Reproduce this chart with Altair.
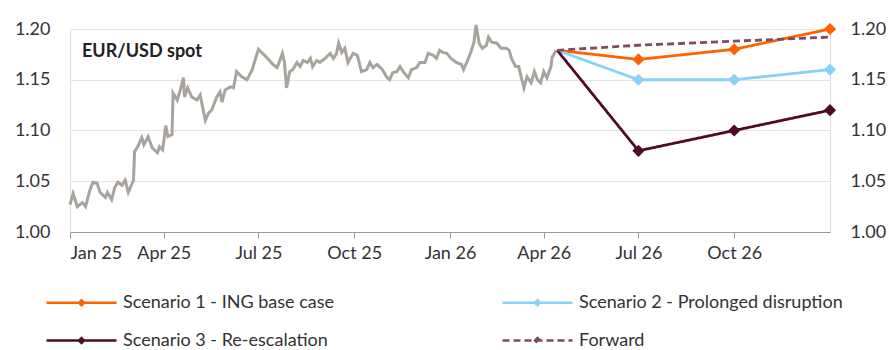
import altair as alt
import pandas as pd

# ---- EUR/USD spot ----
spot_dates = [
    "2025-01-01", "2025-01-04", "2025-01-08", "2025-01-13", "2025-01-16", "2025-01-20", "2025-01-23",
    "2025-01-27", "2025-01-30", "2025-02-04", "2025-02-06", "2025-02-10", "2025-02-13", "2025-02-16",
    "2025-02-20", "2025-02-23", "2025-02-26", "2025-03-03", "2025-03-04", "2025-03-07", "2025-03-11",
    "2025-03-13", "2025-03-17", "2025-03-21", "2025-03-26", "2025-03-28", "2025-03-31", "2025-04-03",
    "2025-04-05", "2025-04-09", "2025-04-10", "2025-04-14", "2025-04-17", "2025-04-20", "2025-04-21",
    "2025-04-24", "2025-04-28", "2025-05-03", "2025-05-06", "2025-05-11", "2025-05-14", "2025-05-17",
    "2025-05-22", "2025-05-25", "2025-05-27", "2025-05-30", "2025-06-04", "2025-06-07", "2025-06-10",
    "2025-06-15", "2025-06-20", "2025-06-25", "2025-07-01", "2025-07-05", "2025-07-09", "2025-07-15",
    "2025-07-19", "2025-07-24", "2025-07-26", "2025-07-28", "2025-07-31", "2025-08-03", "2025-08-07",
    "2025-08-10", "2025-08-13", "2025-08-17", "2025-08-20", "2025-08-22", "2025-08-26", "2025-08-29",
    "2025-09-03", "2025-09-08", "2025-09-11", "2025-09-14", "2025-09-16", "2025-09-19", "2025-09-22",
    "2025-09-25", "2025-09-30", "2025-10-04", "2025-10-08", "2025-10-13", "2025-10-16", "2025-10-19",
    "2025-10-23", "2025-10-28", "2025-11-01", "2025-11-04", "2025-11-07", "2025-11-11", "2025-11-14",
    "2025-11-17", "2025-11-22", "2025-11-25", "2025-11-30", "2025-12-03", "2025-12-08", "2025-12-11",
    "2025-12-16", "2025-12-19", "2025-12-22", "2025-12-25", "2025-12-29", "2026-01-02", "2026-01-07",
    "2026-01-12", "2026-01-14", "2026-01-17", "2026-01-21", "2026-01-24", "2026-01-26", "2026-01-29",
    "2026-02-01", "2026-02-05", "2026-02-07", "2026-02-10", "2026-02-15", "2026-02-19", "2026-02-24",
    "2026-02-27", "2026-03-01", "2026-03-05", "2026-03-08", "2026-03-11", "2026-03-13", "2026-03-16",
    "2026-03-20", "2026-03-23", "2026-03-26", "2026-03-29", "2026-04-01", "2026-04-04", "2026-04-08",
    "2026-04-09", "2026-04-13",
]
spot_values = [
    1.027, 1.038, 1.025, 1.029, 1.025, 1.041, 1.049,
    1.048, 1.039, 1.034, 1.039, 1.032, 1.044, 1.049,
    1.046, 1.051, 1.039, 1.051, 1.079, 1.084, 1.093,
    1.086, 1.094, 1.083, 1.078, 1.084, 1.081, 1.105,
    1.094, 1.096, 1.137, 1.130, 1.140, 1.152, 1.133,
    1.142, 1.133, 1.130, 1.135, 1.110, 1.117, 1.120,
    1.133, 1.138, 1.128, 1.140, 1.143, 1.142, 1.158,
    1.153, 1.150, 1.160, 1.180, 1.176, 1.172, 1.165,
    1.162, 1.176, 1.167, 1.142, 1.158, 1.160, 1.167,
    1.163, 1.169, 1.167, 1.171, 1.163, 1.169, 1.167,
    1.171, 1.176, 1.171, 1.176, 1.186, 1.177, 1.181,
    1.167, 1.176, 1.174, 1.158, 1.160, 1.167, 1.162,
    1.165, 1.160, 1.153, 1.150, 1.157, 1.158, 1.163,
    1.158, 1.152, 1.160, 1.162, 1.167, 1.167, 1.176,
    1.174, 1.171, 1.179, 1.177, 1.176, 1.171, 1.167,
    1.165, 1.160, 1.167, 1.177, 1.187, 1.204, 1.186,
    1.181, 1.184, 1.192, 1.187, 1.186, 1.181, 1.181,
    1.179, 1.171, 1.163, 1.163, 1.150, 1.142, 1.153,
    1.147, 1.158, 1.150, 1.147, 1.158, 1.152, 1.163,
    1.172, 1.179,
]

# ---- Scenarios & forward ----
scen_dates = ["2026-04-14", "2026-07-01", "2026-10-01", "2027-01-01"]
scenario1 = [1.179, 1.17, 1.18, 1.20]
scenario2 = [1.179, 1.15, 1.15, 1.16]
scenario3 = [1.179, 1.08, 1.10, 1.12]
forward = [1.179, 1.184, 1.188, 1.192]

series_names = [
    "Scenario 1 - ING base case",
    "Scenario 2 - Prolonged disruption",
    "Scenario 3 - Re-escalation",
    "Forward",
]
series_colors = ["#FF6200", "#89D2F7", "#4F0A2A", "#7E4A66"]
series_dash = [[1, 0], [1, 0], [1, 0], [7, 4]]

x_ticks = ["2025-01-01", "2025-04-01", "2025-07-01", "2025-10-01",
           "2026-01-01", "2026-04-01", "2026-07-01", "2026-10-01"]

FONT = "Lato"
TXT = "#333333"

spot_df = pd.DataFrame({"date": spot_dates, "value": spot_values})

rows = []
for name, vals, col in zip(series_names, [scenario1, scenario2, scenario3, forward], series_colors):
    for d, v in zip(scen_dates, vals):
        rows.append({"series": name, "date": d, "value": v, "color": col})
scen_df = pd.DataFrame(rows)
pts_df = scen_df[(scen_df["series"] != "Forward") & (scen_df["date"] != scen_dates[0])]

x_scale = alt.Scale(type="utc", domain=[{"year": 2025, "month": 1, "date": 1, "utc": True},
                                        {"year": 2027, "month": 1, "date": 1, "utc": True}])
y_scale = alt.Scale(domain=[1.0, 1.2], nice=False, zero=False)

x_axis = alt.Axis(
    values=[alt.DateTime(year=int(t[:4]), month=int(t[5:7]), date=1, utc=True) for t in x_ticks],
    labelExpr="utcFormat(datum.value, '%b %y')", title=None, grid=False,
    domainColor="#9a9a9a", tickColor="#9a9a9a", tickSize=6, domainWidth=1,
    labelFontSize=18, labelColor=TXT, labelFont=FONT, labelPadding=6,
)

spot = alt.Chart(spot_df).mark_line(color="#A8A39D", strokeWidth=3).encode(
    x=alt.X("date:T", scale=x_scale, axis=x_axis),
    y=alt.Y("value:Q", scale=y_scale, axis=alt.Axis(
        values=[1.0, 1.05, 1.1, 1.15, 1.2], format=".2f", title=None, orient="left",
        ticks=False, domain=False, grid=True, gridColor="#e3e3e3", gridWidth=1,
        labelFontSize=18, labelColor=TXT, labelFont=FONT, labelPadding=20)),
)

legend = alt.Legend(
    title=None, orient="none", legendX=-25, legendY=262, columns=2, direction="horizontal",
    symbolType="M-1,0L6,0M2.25,0L2.5,-0.25L2.75,0L2.5,0.25Z",
    symbolSize=400, symbolStrokeWidth=2.5, labelOffset=55,
    labelFontSize=18, labelFont=FONT, labelColor=TXT, labelLimit=400,
    columnPadding=163, rowPadding=17,
)

lines = alt.Chart(scen_df).mark_line(strokeWidth=2.8).encode(
    x=alt.X("date:T", scale=x_scale),
    y=alt.Y("value:Q", scale=y_scale, axis=alt.Axis(
        values=[1.0, 1.05, 1.1, 1.15, 1.2], format=".2f", title=None, orient="right",
        ticks=False, domain=False, grid=False,
        labelFontSize=18, labelColor=TXT, labelFont=FONT, labelPadding=20)),
    color=alt.Color("series:N", scale=alt.Scale(domain=series_names, range=series_colors), legend=legend),
    strokeDash=alt.StrokeDash("series:N", scale=alt.Scale(domain=series_names, range=series_dash), legend=legend),
)

pts = alt.Chart(pts_df).mark_point(shape="diamond", filled=True, size=150, opacity=1).encode(
    x=alt.X("date:T", scale=x_scale),
    y=alt.Y("value:Q", scale=y_scale, axis=None),
    color=alt.Color("color:N", scale=None),
)

label = alt.Chart(pd.DataFrame({"t": ["EUR/USD spot"]})).mark_text(
    align="left", baseline="middle", fontSize=18, fontWeight="bold", font=FONT, color="#222222"
).encode(x=alt.value(12), y=alt.value(23), text="t:N")

chart = alt.layer(spot, lines, pts, label).resolve_scale(y="independent").properties(
    width=760, height=203,
    autosize=alt.AutoSizeParams(type="none"),
    padding={"left": 70, "top": 29, "right": 59, "bottom": 118},
).configure_view(stroke=None).configure(background="white")

chart.save("out.html", embed_options={"renderer": "svg", "actions": False})
